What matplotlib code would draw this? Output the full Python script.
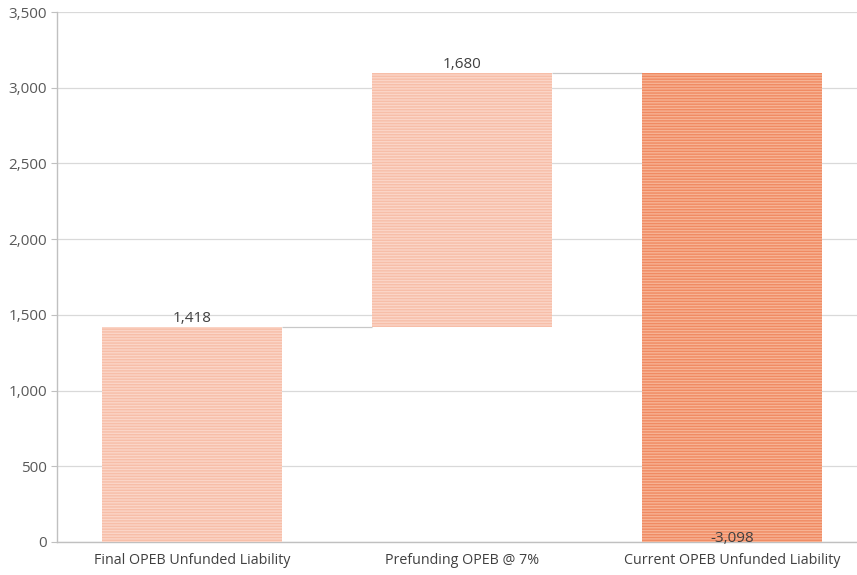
import matplotlib.pyplot as plt
import matplotlib
import numpy as np

matplotlib.rcParams['font.family'] = ['Open Sans', 'DejaVu Sans']
matplotlib.rcParams['hatch.linewidth'] = 1.0

# データ
categories = ['Final OPEB Unfunded Liability', 'Prefunding OPEB @ 7%', 'Current OPEB Unfunded Liability']
start_value = 1418
change_value = 1680
end_value = 3098
bar_labels = ['1,418', '1,680', '-3,098']

bottoms = [0, start_value, 0]
heights = [start_value, change_value, end_value]

fig = plt.figure(figsize=(8.57, 5.75), dpi=100)
ax = fig.add_axes([0.0665, 0.0574, 0.945, 0.9217])

x = np.arange(len(categories))
w = 0.667
face = ['#fbd5c7', '#fbd5c7', '#f7b394']
edge = ['#f7bea8', '#f7bea8', '#f08a62']
for i in range(len(categories)):
    ax.bar(x[i], heights[i], bottom=bottoms[i], width=w, color=face[i],
           edgecolor=edge[i], hatch='------', linewidth=0, zorder=3)

# 接続線
ax.hlines(start_value, x[0] + w / 2, x[1] - w / 2, colors='#c8c8c8', linewidth=0.9, zorder=2)
ax.hlines(end_value, x[1] + w / 2, x[2] - w / 2, colors='#c8c8c8', linewidth=0.9, zorder=2)

# ラベル
ax.text(x[0], start_value + 8, bar_labels[0], ha='center', va='bottom', fontsize=11, color='#404040', zorder=4)
ax.text(x[1], end_value + 8, bar_labels[1], ha='center', va='bottom', fontsize=11, color='#404040', zorder=4)
ax.text(x[2], -25, bar_labels[2], ha='center', va='bottom', fontsize=11, color='#404040', zorder=4)

ax.set_xlim(-0.5, 2.5)
ax.set_ylim(0, 3500)
ax.set_yticks(np.arange(0, 3501, 500))
ax.set_yticklabels([f'{v:,}' for v in range(0, 3501, 500)])
ax.set_xticks(x)
ax.set_xticklabels(categories)
ax.yaxis.grid(True, color='#d9d9d9', linewidth=0.9, zorder=0)
ax.set_axisbelow(True)
for s in ['top', 'right']:
    ax.spines[s].set_visible(False)
for s in ['left', 'bottom']:
    ax.spines[s].set_color('#c0c0c0')
    ax.spines[s].set_linewidth(1.0)
ax.tick_params(axis='y', colors='#c0c0c0', labelcolor='#595959', labelsize=11, length=4, pad=3)
ax.tick_params(axis='x', length=0, labelcolor='#404040', labelsize=10.3, pad=8)

plt.savefig('out.png', dpi=100)
plt.close()
